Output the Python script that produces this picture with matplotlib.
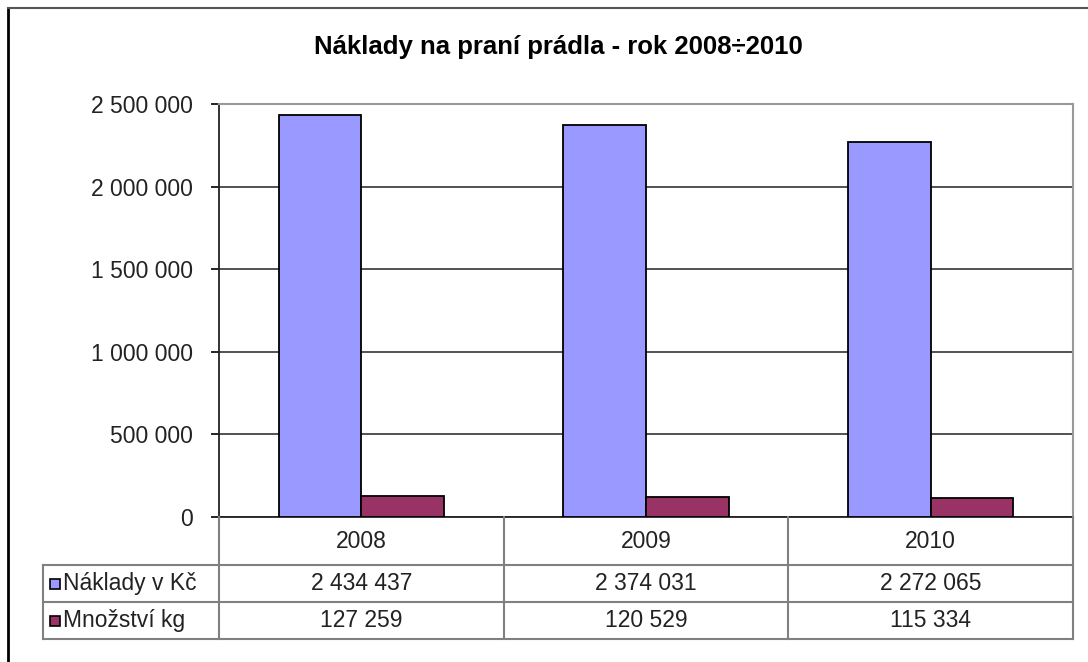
import numpy as np
import matplotlib
matplotlib.use('Agg')
import matplotlib.pyplot as plt
from matplotlib.lines import Line2D
from matplotlib.patches import Rectangle
from matplotlib.ticker import FuncFormatter

plt.rcParams['font.family'] = ['Liberation Sans', 'DejaVu Sans']

# data
years = ['2008', '2009', '2010']
naklady = [2434437, 2374031, 2272065]
mnozstvi = [127259, 120529, 115334]
series_names = ['Náklady v Kč', 'Množství kg']
series_colors = ['#9999FF', '#993366']
title = 'Náklady na praní prádla - rok 2008÷2010'


def fmt(v, pos=None):
    return f'{int(v):,}'.replace(',', ' ')


W, H = 1088, 662
fig = plt.figure(figsize=(W / 100, H / 100), dpi=100)


def fx(px):
    return px / W


def fy(py):
    return 1 - py / H


# outer frame (left + top only visible)
fig.add_artist(Line2D([fx(8), fx(8)], [fy(8), 0], color='black', lw=2))
fig.add_artist(Line2D([fx(8), 1], [fy(8), fy(8)], color='#555555', lw=1.5))

fig.text(fx(558), fy(47), title, ha='center', va='center',
         fontsize=18.5, fontweight='bold')

ax_l, ax_r, ax_t, ax_b = 219, 1073, 104, 517
ax = fig.add_axes([fx(ax_l), fy(ax_b), (ax_r - ax_l) / W, (ax_b - ax_t) / H])

x = np.arange(len(years))
bw = 0.29
ax.bar(x - bw / 2, naklady, bw, color=series_colors[0], edgecolor='black', lw=1.3, zorder=3)
ax.bar(x + bw / 2, mnozstvi, bw, color=series_colors[1], edgecolor='black', lw=1.3, zorder=3)
ax.set_xlim(-0.5, 2.5)
ax.set_ylim(0, 2500000)
ax.set_yticks(range(0, 2500001, 500000))
ax.yaxis.set_major_formatter(FuncFormatter(fmt))
ax.set_xticks([])
ax.grid(axis='y', color='#333333', lw=1.2, zorder=0)
ax.tick_params(axis='y', direction='out', length=6, width=1.2, pad=13, labelsize=16.5,
               labelcolor='#222222')
for s in ['left', 'bottom']:
    ax.spines[s].set_color('#222222')
    ax.spines[s].set_linewidth(1.3)
for s in ['top', 'right']:
    ax.spines[s].set_color('#999999')
    ax.spines[s].set_linewidth(1.5)

# data table under the plot
rows_y = [517, 565, 602, 639]
tab_left = 43
col_w = (ax_r - ax_l) / len(years)
tax = fig.add_axes([0, 0, 1, 1], facecolor='none')
tax.set_xlim(0, W)
tax.set_ylim(H, 0)
tax.axis('off')
gc = '#808080'
fs = 16.5
# vertical lines
for i in range(len(years) + 1):
    xx = ax_l + i * col_w
    tax.plot([xx, xx], [rows_y[0], rows_y[3]], color=gc, lw=1.5)
tax.plot([tab_left, tab_left], [rows_y[1], rows_y[3]], color=gc, lw=1.5)
for yy in rows_y[1:]:
    tax.plot([tab_left, ax_r], [yy, yy], color=gc, lw=1.5)

for i, yr in enumerate(years):
    cx = ax_l + (i + 0.5) * col_w
    tax.text(cx, (rows_y[0] + rows_y[1]) / 2, yr, ha='center', va='center', fontsize=fs,
             color='#222222')
    tax.text(cx, (rows_y[1] + rows_y[2]) / 2, fmt(naklady[i]), ha='center', va='center',
             fontsize=fs, color='#222222')
    tax.text(cx, (rows_y[2] + rows_y[3]) / 2, fmt(mnozstvi[i]), ha='center', va='center',
             fontsize=fs, color='#222222')

for r, (name, col) in enumerate(zip(series_names, series_colors)):
    cy = (rows_y[r + 1] + rows_y[r + 2]) / 2
    tax.add_patch(Rectangle((50, cy - 5), 10, 10, facecolor=col, edgecolor='black', lw=1.2))
    tax.text(63, cy, name, ha='left', va='center', fontsize=fs, color='#222222')

fig.savefig('out.png', dpi=100)
